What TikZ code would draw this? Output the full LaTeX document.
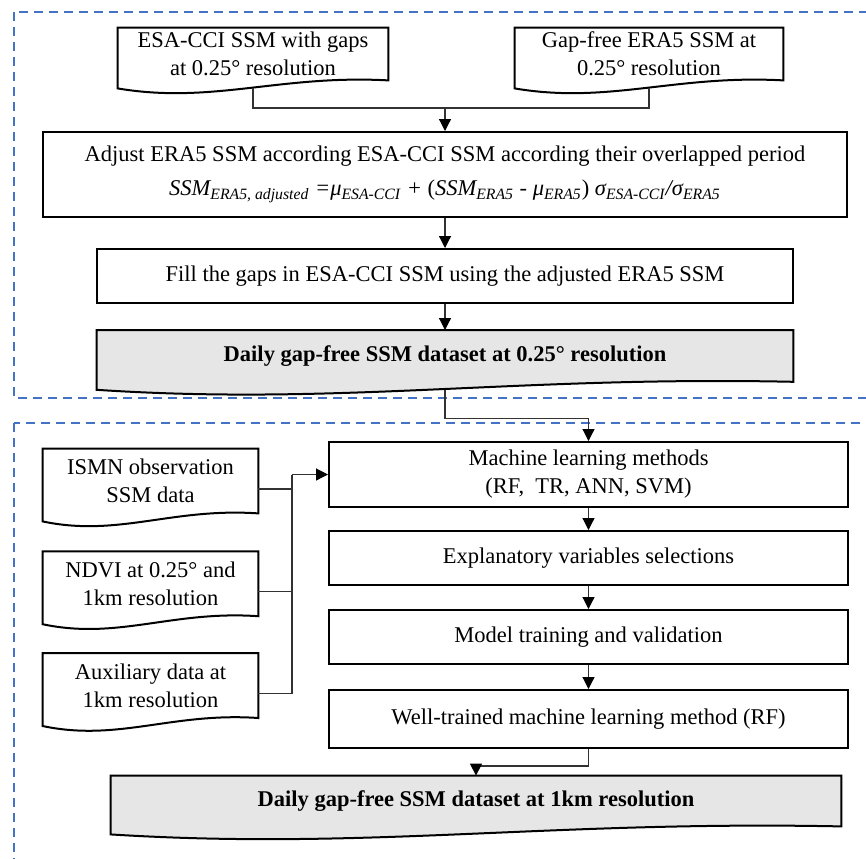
\documentclass[tikz,border=0pt]{standalone}
\usepackage{fontspec}
\setmainfont{Liberation Serif}
\usetikzlibrary{positioning, calc, arrows.meta, backgrounds}
\definecolor{panelblue}{RGB}{68, 114, 196}
\definecolor{resultgray}{RGB}{230, 230, 230}
\definecolor{linkgray}{RGB}{50, 50, 50}
\newcommand{\boxfont}{\fontsize{11.25}{14}\selectfont}
\tikzstyle{process} = [rectangle, draw=black, line width=1pt, minimum height=27pt, inner sep=0pt, align=center, font=\boxfont]
\tikzstyle{datadoc} = [rectangle, minimum width=107.5pt, minimum height=32pt, inner sep=0pt, align=center, font=\boxfont]
\tikzstyle{result} = [rectangle, minimum height=25.5pt, inner sep=0pt, align=center, font=\boxfont\bfseries]
\tikzstyle{link} = [line width=0.6pt, draw=linkgray]
\tikzstyle{arrow} = [link, ->, >={Triangle[length=6pt,width=6pt,color=black]}]
\tikzstyle{panel} = [draw=panelblue, line width=1pt, dash pattern=on 4.5pt off 3pt]
% outline with a wavy lower edge, drawn behind the node text
\newcommand{\docframe}[2]{%
  \begin{scope}[on background layer]
    \filldraw[line width=1pt, fill=#2] let \p1=(#1.north west), \p2=(#1.south east), \n1={\x2-\x1} in
      (\p1) -- (\x2,\y1) -- (\p2) .. controls ({\x2-0.4*\n1},{\y2+3pt}) and ({\x1+0.35*\n1},{\y2-12pt}) .. (\x1,{\y2-4pt}) -- cycle;
  \end{scope}}

\begin{document}
\begin{tikzpicture}
      \useasboundingbox (0,0) rectangle (433pt,-429pt);
      \draw[panel] (7pt,-6pt) rectangle (440pt,-199pt);
      \draw[panel] (7pt,-211.5pt) rectangle (440pt,-440pt);

      % gap filling at 0.25 degree
      \node[datadoc, minimum width=135pt, minimum height=26pt] (esa) at (126.5pt,-27pt) {ESA-CCI SSM with gaps\\at 0.25° resolution};
      \node[datadoc, minimum width=134pt, minimum height=26pt] (era) at (324.5pt,-27pt) {Gap-free ERA5 SSM at\\0.25° resolution};
      \node[process, minimum width=402pt, minimum height=42.5pt] (adjust) at (222.5pt,-87.25pt) {Adjust ERA5 SSM according ESA-CCI SSM according their overlapped period\\[3pt]
        \textit{SSM\textsubscript{ERA5, adjusted} =μ\textsubscript{ESA-CCI} + }(\textit{SSM\textsubscript{ERA5} - μ\textsubscript{ERA5}}) \textit{σ\textsubscript{ESA-CCI}/σ\textsubscript{ERA5}}};
      \node[process, minimum width=348pt, below=15pt of adjust] (fill) {Fill the gaps in ESA-CCI SSM using the adjusted ERA5 SSM};
      \node[result, minimum width=348pt, below=13pt of fill] (daily1) {Daily gap-free SSM dataset at 0.25° resolution};

      % downscaling to 1km
      \node[process, minimum width=259.5pt, minimum height=32.5pt] (ml) at (294.25pt,-237.25pt) {Machine learning methods\\(RF,~~TR, ANN, SVM)};
      \node[process, minimum width=259.5pt, below=11pt of ml] (expl) {Explanatory variables selections};
      \node[process, minimum width=259.5pt, below=11.5pt of expl] (model) {Model training and validation};
      \node[process, minimum width=259.5pt, minimum height=29pt, below=12pt of model] (trained) {Well-trained machine learning method (RF)};
      \node[datadoc] (ismn) at (75.25pt,-240.5pt) {ISMN observation\\SSM data};
      \node[datadoc, below=19pt of ismn] (ndvi) {NDVI at 0.25° and\\1km resolution};
      \node[datadoc, below=18.5pt of ndvi] (aux) {Auxiliary data at\\1km resolution};
      \node[result, minimum width=365pt, minimum height=25pt] (daily2) at (238pt,-400.5pt) {Daily gap-free SSM dataset at 1km resolution};

      \docframe{esa}{white}
      \docframe{era}{white}
      \docframe{daily1}{resultgray}
      \docframe{ismn}{white}
      \docframe{ndvi}{white}
      \docframe{aux}{white}
      \docframe{daily2}{resultgray}

      \coordinate (merge) at ($(adjust.north)+(0,11.5pt)$);
      \draw[link] ([yshift=-3.9pt]esa.south) |- (merge) -| ([yshift=-3.9pt]era.south);
      \draw[arrow] (merge) -- (adjust.north);
      \draw[arrow] (adjust) -- (fill);
      \draw[arrow] (fill) -- (daily1);
      \draw[arrow] ([yshift=-3.9pt]daily1.south) -- ++(0,-14.5pt) -| (ml.north);

      \coordinate[left=18pt of ml.west] (bus);
      \draw[link] (bus) |- ([yshift=-4pt]aux.east);
      \draw[link] ([yshift=-4pt]ismn.east) -- ([yshift=-4pt]ismn.east -| bus);
      \draw[link] ([yshift=-4pt]ndvi.east) -- ([yshift=-4pt]ndvi.east -| bus);
      \draw[arrow] (bus) -- (ml.west);
      \draw[arrow] (ml) -- (expl);
      \draw[arrow] (expl) -- (model);
      \draw[arrow] (model) -- (trained);
      \draw[arrow] (trained.south) -- ++(0,-8.5pt) -| (daily2.north);
    \end{tikzpicture}
\end{document}
